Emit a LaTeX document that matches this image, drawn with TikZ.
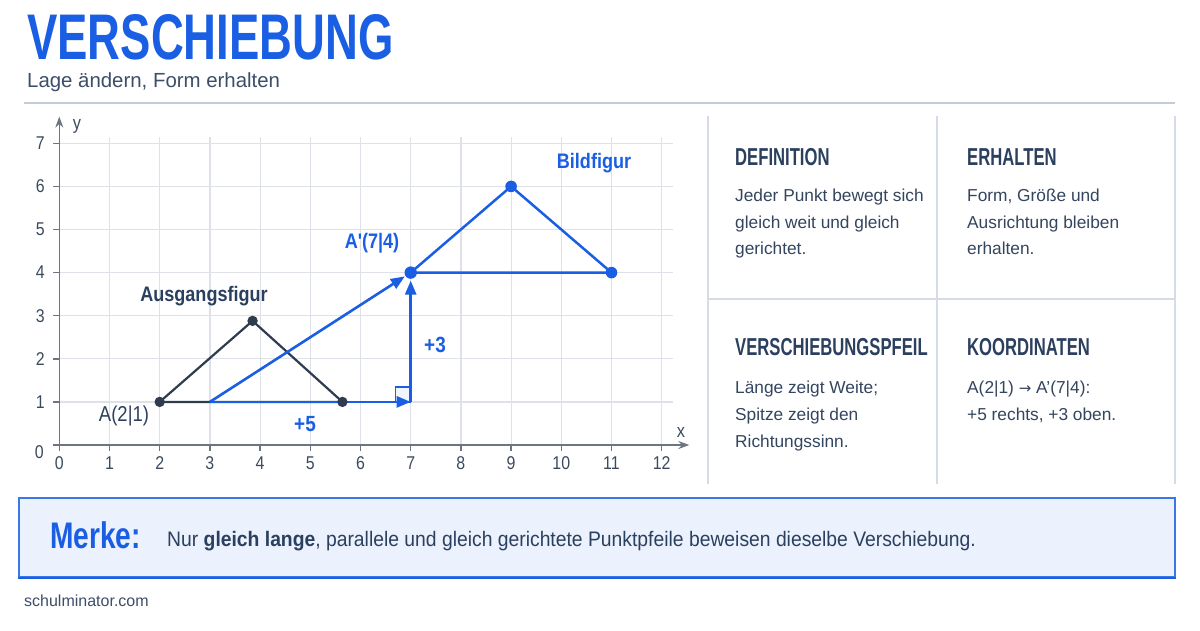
\documentclass[tikz,border=0pt]{standalone}
\usepackage{fontspec}
\setmainfont{Liberation Sans}
\newfontfamily\condf{Liberation Sans}[FakeStretch=0.68]
\newfontfamily\titlef{Liberation Sans}[FakeStretch=0.705]
\newfontfamily\semif{Liberation Sans}[FakeStretch=0.86]
\newfontfamily\merktf{Liberation Sans}[FakeStretch=0.92]
\newfontfamily\merkef{Liberation Sans}[FakeStretch=0.76]
\newfontfamily\symf{DejaVu Sans}
\usetikzlibrary{arrows.meta}
\definecolor{mblue}{HTML}{1A5FE3}
\definecolor{mnavy}{HTML}{2B3F5F}
\definecolor{mtext}{HTML}{34455F}
\definecolor{msub}{HTML}{3D4E69}
\definecolor{mdark}{HTML}{2F3B4E}
\definecolor{mgrid}{HTML}{DEE2E8}
\definecolor{maxis}{HTML}{6E7480}
\definecolor{mtick}{HTML}{3C4A5E}
\definecolor{mpanel}{HTML}{D6DCE5}
\definecolor{mfill}{HTML}{EBF2FD}
\definecolor{msep}{HTML}{C5CCD8}
\tikzset{
  titletext/.style={font=\titlef\bfseries\fontsize{64.5}{64.5}\selectfont, text=mblue, anchor=base west, inner sep=0},
  subtext/.style={font=\fontsize{20.4}{20.4}\selectfont, text=msub, anchor=base west, inner sep=0},
  headtext/.style={font=\condf\bfseries\fontsize{24.5}{24.5}\selectfont, text=mnavy, anchor=base west, inner sep=0},
  bodytext/.style={font=\fontsize{17.3}{17.3}\selectfont, text=mtext, anchor=base west, inner sep=0},
  ticktext/.style={font=\semif\fontsize{18.5}{18.5}\selectfont, text=mtick, inner sep=0},
  figlabel/.style={font=\semif\bfseries\fontsize{21}{21}\selectfont, inner sep=0},
  gridl/.style={draw=mgrid, line width=1.2pt},
  axisl/.style={draw=maxis, line width=1.5pt},
  darkl/.style={draw=mdark, line width=2.2pt, line join=round},
  bluel/.style={draw=mblue, line width=2.5pt, line join=round},
  bluearrow/.style={draw=mblue, line width=2.6pt, -{Triangle[length=14pt,width=11pt]}},
  panell/.style={draw=mpanel, line width=1.2pt},
}
\begin{document}
\begin{tikzpicture}[x=1pt,y=-1pt]
\useasboundingbox (0,0) rectangle (1200,630);
\fill[white] (0,0) rectangle (1200,630);

% title
\node[titletext] (title) at (27,59) {VERSCHIEBUNG};
\node[subtext] (subtitle) at (27,87.5) {Lage ändern, Form erhalten};
\coordinate (sepL) at (24,103);
\coordinate (sepR) at (1175,103);
\draw[draw=msep, line width=1.2pt] (sepL) -- (sepR);

% graph
\begin{scope}[shift={(59.3pt,-445pt)}, x=50.2pt, y=43.1pt]
  \foreach \i in {1,...,12} \draw[gridl] (\i,0) -- (\i,7.15);
  \foreach \j in {1,...,7} \draw[gridl] (0,\j) -- (12.22,\j);
  \coordinate (O) at (0,0);
  \coordinate (xbeg) at (0,0);
  \coordinate (xend) at (12.55,0);
  \coordinate (ybeg) at (0,-0.14);
  \coordinate (yend) at (0,7.62);
  \draw[axisl, -{Stealth[length=11pt,width=8pt]}] (xbeg) -- (xend);
  \draw[axisl, -{Stealth[length=11pt,width=8pt]}] (ybeg) -- (yend);
  \foreach \i in {0,...,12} {
    \draw[axisl] (\i,0) -- ++(0,-6pt);
    \node[ticktext] (xl\i) at ([yshift=-18pt]\i,0) {\i};
  }
  \foreach \j in {1,...,7} {
    \draw[axisl] (0,\j) -- ++(-6pt,0);
    \node[ticktext] (yl\j) at ([xshift=-19pt]0,\j) {\j};
  }
  \draw[axisl] (0,0) -- ++(-6pt,0);
  \node[ticktext] (yl0) at ([xshift=-20pt,yshift=-7pt]0,0) {0};

  % original figure
  \coordinate (A) at (2,1);
  \coordinate (B) at (3.85,2.88);
  \coordinate (C) at (5.64,1);
  \draw[darkl] (A) -- (B) -- (C) -- cycle;

  % image figure
  \coordinate (A1) at (7,4);
  \coordinate (B1) at (9,6);
  \coordinate (C1) at (11,4);
  \coordinate (S) at (3,1);
  \coordinate (R) at (7,1);

  % right angle marker
  \draw[draw=mblue, line width=1.2pt, fill=mblue!7] ([xshift=-15pt]R) rectangle ([yshift=15pt]R);

  \draw[bluearrow] (S) -- (R);
  \draw[bluearrow, shorten >=8pt] (R) -- (A1);
  \draw[bluearrow, shorten >=7pt] (S) -- (A1);
  \draw[bluel] (A1) -- (B1) -- (C1) -- cycle;

  \fill[mdark] (A) circle (5.2pt) (B) circle (5.2pt) (C) circle (5.2pt);
  \fill[mblue] (A1) circle (6.2pt) (B1) circle (5.8pt) (C1) circle (5.8pt);
\end{scope}

\node[font=\semif\fontsize{19}{19}\selectfont, text=mtick, inner sep=0] (ylab) at (77,126) {y};
\node[font=\semif\fontsize{19}{19}\selectfont, text=mtick, inner sep=0] (xlab) at (681,432) {x};

\node[figlabel, text=mnavy] (ausg) at (204,296) {Ausgangsfigur};
\node[figlabel, text=mblue] (bild) at (594,163) {Bildfigur};
\node[figlabel, text=mblue] (alab) at (372,243) {A'(7|4)};
\node[font=\semif\fontsize{21.5}{21.5}\selectfont, text=mnavy, inner sep=0] (aorig) at (124,416) {A(2|1)};
\node[figlabel, text=mblue, font=\semif\bfseries\fontsize{22}{22}\selectfont] (plus5) at (305,424) {+5};
\node[figlabel, text=mblue, font=\semif\bfseries\fontsize{22}{22}\selectfont] (plus3) at (435,345) {+3};

% info panel
\coordinate (pTL) at (708,116);
\coordinate (pBL) at (708,484);
\coordinate (pTM) at (937,116);
\coordinate (pBM) at (937,484);
\coordinate (pTR) at (1175,116);
\coordinate (pBR) at (1175,484);
\coordinate (pML) at (708,299);
\coordinate (pMR) at (1175,299);
\draw[panell] (pTL) -- (pBL);
\draw[panell] (pTM) -- (pBM);
\draw[panell] (pTR) -- (pBR);
\draw[panell] (pML) -- (pMR);

\node[headtext] (h1) at (735,165) {DEFINITION};
\node[bodytext] (d1) at (735,201.7) {Jeder Punkt bewegt sich};
\node[bodytext] (d2) at (735,228) {gleich weit und gleich};
\node[bodytext] (d3) at (735,254) {gerichtet.};

\node[headtext] (h2) at (967,165) {ERHALTEN};
\node[bodytext] (e1) at (967,201.7) {Form, Größe und};
\node[bodytext] (e2) at (967,228) {Ausrichtung bleiben};
\node[bodytext] (e3) at (967,254) {erhalten.};

\node[headtext] (h3) at (735,355) {VERSCHIEBUNGSPFEIL};
\node[bodytext] (v1) at (735,393.3) {Länge zeigt Weite;};
\node[bodytext] (v2) at (735,420.5) {Spitze zeigt den};
\node[bodytext] (v3) at (735,447.3) {Richtungssinn.};

\node[headtext] (h4) at (967,355) {KOORDINATEN};
\node[bodytext] (k1) at (967,393.3) {A(2|1) {\symf\fontsize{15}{15}\selectfont →} A'(7|4):};
\node[bodytext] (k2) at (967,420.5) {+5 rechts, +3 oben.};

% Merke box
\node[draw=mblue!85, fill=mfill, line width=1.1pt, minimum width=1156pt, minimum height=79pt, inner sep=0] (merkebox) at (597,537.5) {};
\draw[mblue, line width=2pt] (merkebox.south west) -- (merkebox.south east);
\node[font=\merkef\bfseries\fontsize{37}{37}\selectfont, text=mblue, anchor=base west, inner sep=0] (merke) at (50,548) {Merke:};
\node[font=\merktf\fontsize{21}{21}\selectfont, text=mnavy, anchor=base west, inner sep=0] (merketext) at (167,546) {Nur \textbf{gleich lange}, parallele und gleich gerichtete Punktpfeile beweisen dieselbe Verschiebung.};

% footer
\node[font=\fontsize{16}{16}\selectfont, text=msub, anchor=base west, inner sep=0] (footer) at (24,606) {schulminator.com};
\end{tikzpicture}
\end{document}
